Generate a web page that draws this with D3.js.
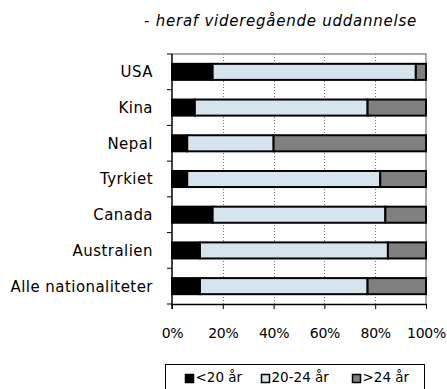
<!DOCTYPE html>
<html>
<head>
<meta charset="utf-8">
<script src="https://cdn.jsdelivr.net/npm/d3@7"></script>
<style>
  html, body { margin: 0; padding: 0; background: #fff; }
  svg { display: block; font-family: "DejaVu Sans", sans-serif; }
</style>
</head>
<body>
<svg id="chart" width="447" height="389"></svg>
<script>
// Share of students by age group, per nationality (percent)
const categories = ["USA", "Kina", "Nepal", "Tyrkiet", "Canada", "Australien", "Alle nationaliteter"];
const under20 = [16, 9, 6, 6, 16, 11, 11];
const age20to24 = [80, 68, 34, 76, 68, 74, 66];
const over24 = [4, 23, 60, 18, 16, 15, 23];
const seriesNames = ["<20 år", "20-24 år", ">24 år"];
const xTicks = [0, 20, 40, 60, 80, 100];
const title = "- heraf videregående uddannelse";

const colors = ["#000000", "#d6e4ee", "#808080"];

const svg = d3.select("#chart");
const margin = { left: 172, right: 21, top: 54, bottom: 85 };
const W = 447, H = 389;
const x0 = margin.left, x1 = W - margin.right;
const y0 = margin.top, y1 = H - margin.bottom;

const x = d3.scaleLinear().domain([0, 100]).range([x0, x1]);
const y = d3.scaleBand().domain(categories).range([y0, y1]).paddingInner(0.55).paddingOuter(0.275);
const yBand = d3.scaleBand().domain(categories).range([y0, y1]);

// Title
svg.append("text")
  .attr("x", 417).attr("y", 26)
  .attr("text-anchor", "end")
  .attr("font-style", "italic")
  .attr("font-size", 15)
  .attr("letter-spacing", 0.75)
  .attr("fill", "#000")
  .text(title);

// Frame: top and right edge in grey
svg.append("path")
  .attr("d", `M${x0},${y0}H${x1}V${y1}`)
  .attr("fill", "none")
  .attr("stroke", "#8c8c8c")
  .attr("stroke-width", 1.5);

// Dotted vertical gridlines
svg.append("g").selectAll("line")
  .data(xTicks.filter(t => t > 0 && t < 100))
  .join("line")
  .attr("x1", d => Math.round(x(d)) + 0.5).attr("x2", d => Math.round(x(d)) + 0.5)
  .attr("y1", y0).attr("y2", y1)
  .attr("stroke", "#777")
  .attr("stroke-width", 1)
  .attr("stroke-dasharray", "1,2");

// Stacked bars
const rows = categories.map((c, i) => ({ cat: c, vals: [under20[i], age20to24[i], over24[i]] }));
const stackData = rows.map(r => {
  let acc = 0;
  return r.vals.map((v, k) => { const s = acc; acc += v; return { cat: r.cat, k, start: s, end: acc }; });
}).flat();

svg.append("g").selectAll("rect")
  .data(stackData)
  .join("rect")
  .attr("x", d => x(d.start))
  .attr("width", d => x(d.end) - x(d.start))
  .attr("y", d => y(d.cat))
  .attr("height", y.bandwidth())
  .attr("fill", d => colors[d.k])
  .attr("stroke", "#000")
  .attr("stroke-width", 2);

// Left axis with ticks at band boundaries
const yAxisG = svg.append("g");
yAxisG.append("line")
  .attr("x1", x0).attr("x2", x0).attr("y1", y0).attr("y2", y1 + 5)
  .attr("stroke", "#000").attr("stroke-width", 1.5);
const boundaries = categories.map(c => yBand(c)).concat([y1]);
yAxisG.selectAll("line.tk")
  .data(boundaries)
  .join("line")
  .attr("class", "tk")
  .attr("x1", x0 - 5).attr("x2", x0)
  .attr("y1", d => d).attr("y2", d => d)
  .attr("stroke", "#000").attr("stroke-width", 1);

// Category labels
svg.append("g").selectAll("text")
  .data(categories)
  .join("text")
  .attr("x", 153)
  .attr("y", d => yBand(d) + yBand.bandwidth() / 2)
  .attr("dy", "0.36em")
  .attr("text-anchor", "end")
  .attr("font-size", 15)
  .attr("letter-spacing", 0.45)
  .attr("fill", "#000")
  .text(d => d);

// Bottom axis
const xAxis = d3.axisBottom(x).tickValues(xTicks).tickFormat(d => d + "%").tickSize(5).tickSizeOuter(0);
const xg = svg.append("g").attr("transform", `translate(0,${y1})`).call(xAxis);
xg.select(".domain").attr("stroke", "#000").attr("stroke-width", 1.5);
xg.selectAll(".tick line").attr("stroke", "#000");
xg.selectAll(".tick text")
  .attr("y", 34)
  .attr("dy", 0)
  .attr("font-size", 14)
  .attr("letter-spacing", -0.3)
  .attr("font-family", "DejaVu Sans, sans-serif")
  .attr("fill", "#000");

// Legend
const legend = svg.append("g");
legend.append("rect")
  .attr("x", 165.5).attr("y", 364.5)
  .attr("width", 259).attr("height", 40)
  .attr("fill", "#fff").attr("stroke", "#000").attr("stroke-width", 1);
const legendX = [185, 261, 352];
const items = legend.selectAll("g.item")
  .data(seriesNames)
  .join("g")
  .attr("class", "item")
  .attr("transform", (d, i) => `translate(${legendX[i]},0)`);
items.append("rect")
  .attr("x", 0.5).attr("y", 374.5)
  .attr("width", 8).attr("height", 8)
  .attr("fill", (d, i) => colors[i])
  .attr("stroke", "#000").attr("stroke-width", 1.5);
items.append("text")
  .attr("x", 10.5).attr("y", 382)
  .attr("font-size", 13.5)
  .attr("fill", "#000")
  .text(d => d);
</script>
</body>
</html>
